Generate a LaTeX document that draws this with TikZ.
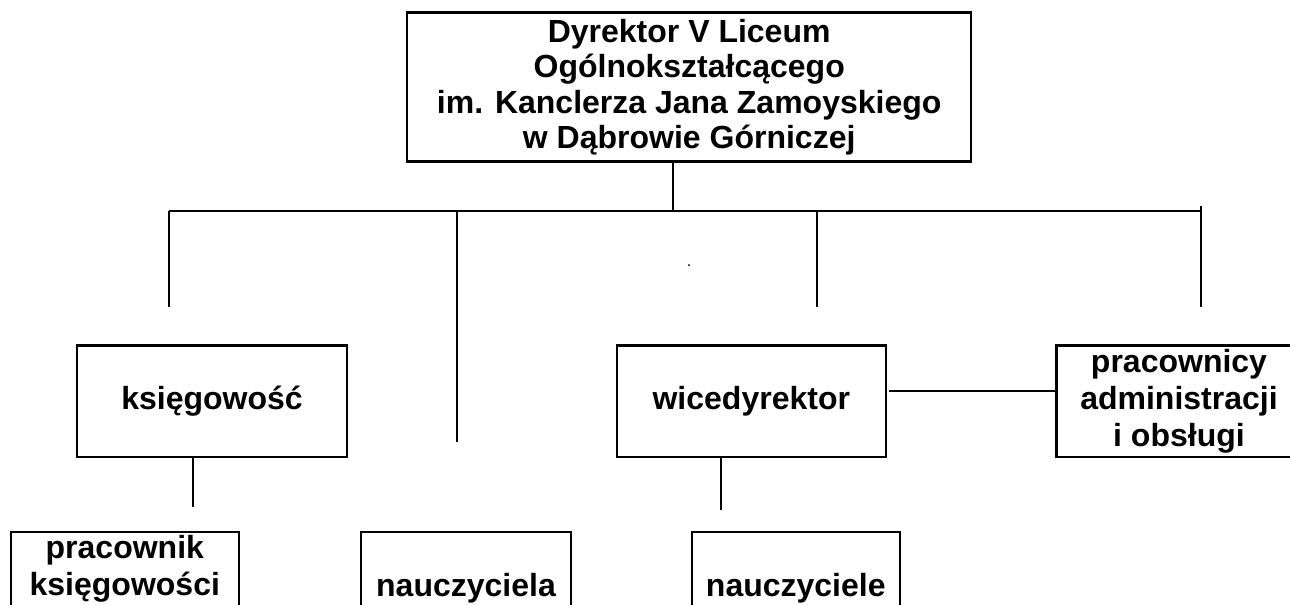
\documentclass[tikz,border=0pt]{standalone}
\usepackage{fontspec}
\setmainfont{Liberation Sans}
\begin{document}
\begin{tikzpicture}[x=0.75pt,y=-0.75pt,
  box/.style={draw, line width=1.7pt, inner sep=0pt, align=center,
    font=\fontsize{24}{27.75}\selectfont\bfseries},
  conn/.style={line width=1.25pt}]
\useasboundingbox (0,0) rectangle (1290,605);
\clip (0,0) rectangle (1290,605);
% boxes
\node[box, minimum width=422.8pt, minimum height=111.8pt,
  font=\fontsize{24}{26.6}\selectfont\bfseries] (dyr) at (689.2,87)
  {Dyrektor V Liceum\\Ogólnokształcącego\\im. Kanclerza Jana Zamoyskiego\\w Dąbrowie Górniczej};
\node[box, minimum width=203pt, minimum height=83.5pt] (ks) at (212,401.3) {księgowość};
\node[box, minimum width=202pt, minimum height=83.5pt] (wice) at (751.3,401.3) {wicedyrektor};
\node[box, minimum width=183.75pt, minimum height=83.5pt] (adm) at (1179,401.3)
  {pracownicy\\administracji\\i obsługi};
\node[box, minimum width=171.2pt, minimum height=87pt] (prk) at (124.8,589.7)
  {pracownik\\księgowości\\\strut};
\node[box, minimum width=157.5pt, minimum height=85pt] (nla) at (466,588.4) {nauczyciela};
\node[box, minimum width=156.2pt, minimum height=85pt] (nle) at (795.8,588.4) {nauczyciele};
\node[inner sep=0pt, font=\fontsize{12}{12}\selectfont] (dot) at (689,266) {.};
% named coordinates
\coordinate (busT) at (673,210.7);
\coordinate (busL) at (169,210.7);
\coordinate (busR) at (1200.7,210.7);
\coordinate (busRt) at (1200.7,206.5);
\coordinate (b2) at (457,210.7);
\coordinate (b3) at (817,210.7);
\coordinate (d1) at (169,307);
\coordinate (d2) at (457,442);
\coordinate (d3) at (817,307);
\coordinate (d4) at (1200.7,307);
\coordinate (ksS) at (193,507);
\coordinate (wiS) at (720.7,510);
\coordinate (hz) at (889,390.7);
% connectors
\draw[conn] (dyr.south -| busT) -- (busT);
\draw[conn] (busL) -- (busR);
\draw[conn] (busL) -- (d1);
\draw[conn] (b2) -- (d2);
\draw[conn] (b3) -- (d3);
\draw[conn] (busRt) -- (d4);
\draw[conn] (ks.south -| ksS) -- (ksS);
\draw[conn] (wice.south -| wiS) -- (wiS);
\draw[conn] (hz) -- (hz -| adm.west);
\end{tikzpicture}
\end{document}
